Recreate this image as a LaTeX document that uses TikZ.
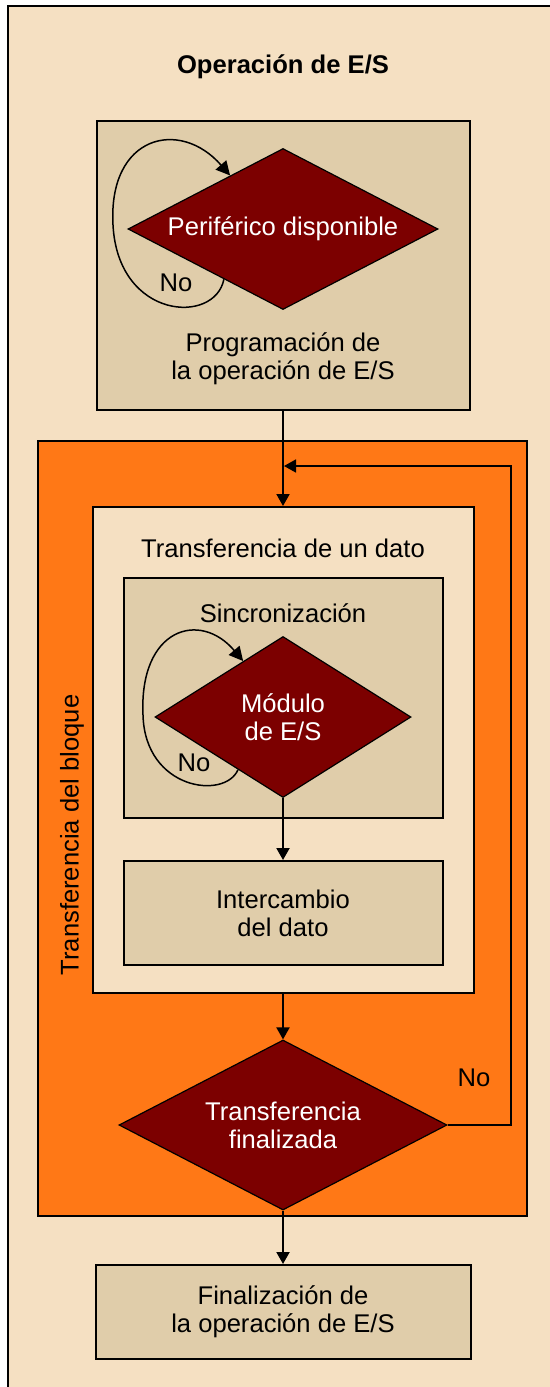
\documentclass[tikz,border=0pt]{standalone}
\usepackage{fontspec}
\setmainfont{Liberation Sans}
\usetikzlibrary{arrows.meta,shapes.geometric,calc}
\definecolor{bg}{RGB}{245,224,194}
\definecolor{boxtan}{RGB}{224,205,170}
\definecolor{orng}{RGB}{255,120,22}
\definecolor{dred}{RGB}{124,0,0}

\begin{document}
\begin{tikzpicture}[x=0.5pt,y=0.5pt,
    font=\fontsize{12.8}{14}\selectfont,
    box/.style={draw,line width=1pt,fill=boxtan,inner sep=0pt},
    decision/.style={diamond,draw,line width=0.6pt,fill=dred,text=white,aspect=2,inner sep=0pt,align=center},
    arr/.style={line width=1pt,-{Triangle[length=6pt,width=6.5pt]}},
    retry/.style={line width=0.75pt,-{Triangle[length=7pt,width=7pt]}}]
    % Page and outer frame
    \useasboundingbox (0,0) rectangle (550,-1387);
    \fill[white] (0,0) rectangle (550,-1387);
    \draw[line width=1pt,fill=bg] (8,-6) rectangle (570,-1400);

    % Title
    \node[font=\bfseries\fontsize{12.8}{14}\selectfont] (title) at (283,-67) {Operación de E/S};

    % Programming of the operation
    \node[box,minimum width=186.5pt,minimum height=144.5pt] (prog) at (283,-265.5) {};
    \node[decision,minimum width=155pt,minimum height=80.5pt] (perif) at (283,-229) {Periférico disponible};
    \node[align=center] (progtxt) at (283,-359) {Programación de\\la operación de E/S};

    % Block transfer
    \node[draw,line width=1pt,fill=orng,minimum width=244.5pt,minimum height=387.5pt,inner sep=0pt] (bloque) at (282.5,-828.5) {};
    \node[rotate=90] (bloquetxt) at (72,-835) {Transferencia del bloque};

    % One data item
    \node[box,fill=bg,minimum width=190.5pt,minimum height=243pt] (dato) at (283,-750) {};
    \node (datotxt) at (283,-548) {Transferencia de un dato};
    \node[box,minimum width=159.5pt,minimum height=120pt] (sinc) at (283,-698) {};
    \node (sinctxt) at (283,-613) {Sincronización};
    \node[decision,minimum width=128pt,minimum height=80.5pt] (modulo) at (283,-717) {Módulo\\de E/S};
    \node[box,align=center,minimum width=159.5pt,minimum height=52pt] (interc) at (283,-913) {Intercambio\\del dato};

    % End of transfer test
    \node[decision,minimum width=164pt,minimum height=85pt] (fin) at (283,-1125) {Transferencia\\finalizada};

    % End of the operation
    \node[box,align=center,minimum width=187.5pt,minimum height=47pt] (final) at (283,-1312) {Finalización de\\la operación de E/S};

    % Flow arrows
    \draw[arr] (prog.south) -- (dato.north);
    \draw[arr] (modulo.south) -- (interc.north);
    \draw[arr] (dato.south) -- (fin.north);
    \draw[arr] (fin.south) -- (final.north);

    % Return path
    \coordinate (corner) at (511,-466);
    \coordinate (merge) at (284,-466);
    \draw[arr,line width=0.8pt] (fin.east) -| (corner) -- (merge);
    \node (no3) at (474,-1078) {No};

    % Waiting loops
    \draw[retry] ($(perif.west)!0.62!(perif.south)$) .. controls (215,-325) and (118,-320) .. (113,-225)
        .. controls (108,-135) and (180,-118) .. ($(perif.west)!0.66!(perif.north)$);
    \node (no1) at (176,-283) {No};
    \draw[retry] ($(modulo.west)!0.65!(modulo.south)$) .. controls (225,-800) and (145,-790) .. (143,-715)
        .. controls (139,-628) and (200,-610) .. ($(modulo.west)!0.69!(modulo.north)$);
    \node (no2) at (194,-763) {No};
\end{tikzpicture}
\end{document}
